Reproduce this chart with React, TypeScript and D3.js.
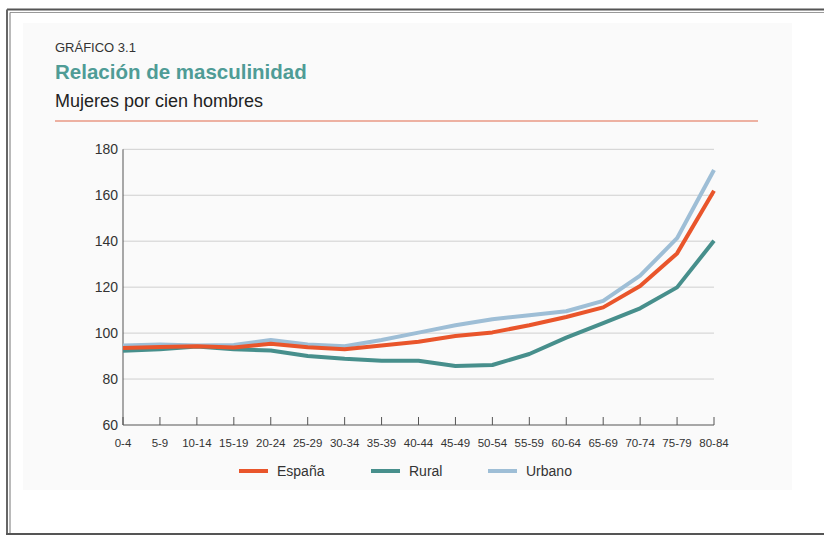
import React from "react";
import * as d3 from "d3";

const categories = ["0-4","5-9","10-14","15-19","20-24","25-29","30-34","35-39","40-44","45-49","50-54","55-59","60-64","65-69","70-74","75-79","80-84"];
const espana = [93.5, 94, 94.3, 93.7, 95.4, 93.8, 93, 94.6, 96.2, 98.7, 100.3, 103.4, 107, 111.2, 120.5, 134.7, 162];
const rural = [92.3, 93, 94.2, 93, 92.4, 90, 88.8, 88, 88, 85.7, 86.1, 90.9, 98, 104.3, 110.8, 119.9, 140.2];
const urbano = [94.6, 95, 94.6, 94.8, 97, 95, 94.3, 97, 100.2, 103.4, 106, 107.8, 109.5, 114, 125, 141.3, 171];
const yTicks = [60, 80, 100, 120, 140, 160, 180];
const seriesNames = ["España", "Rural", "Urbano"];

const COLORS: Record<string, string> = { "España": "#e9552b", "Rural": "#478f8c", "Urbano": "#9ebed6" };
const FONT = "'Liberation Sans', Arial, Helvetica, sans-serif";

export default function App() {
  const W = 824, H = 535;
  const x = d3.scalePoint<string>().domain(categories).range([123, 714]);
  const y = d3.scaleLinear().domain([60, 180]).range([425, 149.3]);
  const line = d3.line<number>().x((_, i) => x(categories[i]) as number).y((v) => y(v));
  const seriesData: Record<string, number[]> = { "España": espana, "Rural": rural, "Urbano": urbano };
  const drawOrder = ["Rural", "Urbano", "España"];
  const legendX = [239, 371, 488];

  return (
    <svg width={W} height={H} style={{ position: "absolute", left: 0, top: 0, background: "#fff" }} fontFamily={FONT}>
      {/* frame */}
      <line x1={7} y1={9.5} x2={W} y2={9.5} stroke="#555" strokeWidth={2} />
      <line x1={10} y1={12.5} x2={W} y2={12.5} stroke="#999" strokeWidth={1} />
      <line x1={7} y1={9.5} x2={7} y2={534} stroke="#666" strokeWidth={2} />
      <line x1={10} y1={12.5} x2={10} y2={534} stroke="#777" strokeWidth={1} />
      <line x1={6} y1={534} x2={W} y2={534} stroke="#555" strokeWidth={2} />
      <rect x={23} y={23} width={769} height={467} fill="#fafafa" />

      {/* header */}
      <text x={55} y={52} fontSize={13} fill="#333">GRÁFICO 3.1</text>
      <text x={55} y={79} fontSize={20.5} fontWeight="bold" fill="#4f9c96">Relación de masculinidad</text>
      <text x={55} y={107} fontSize={18} fill="#222">Mujeres por cien hombres</text>
      <line x1={55} y1={121} x2={758} y2={121} stroke="#e0684a" strokeWidth={1} />

      {/* grid */}
      {yTicks.filter((t) => t > 60).map((t) => (
        <line key={t} x1={123} x2={714} y1={y(t)} y2={y(t)} stroke="#cfcfcf" strokeWidth={1} />
      ))}
      {yTicks.map((t) => (
        <text key={"l" + t} x={118} y={y(t)} dy="0.35em" textAnchor="end" fontSize={14} fill="#333">{t}</text>
      ))}

      {/* axes */}
      <line x1={123} x2={123} y1={149.3} y2={425} stroke="#555" strokeWidth={1} />
      <line x1={123} x2={714} y1={425} y2={425} stroke="#555" strokeWidth={1} />
      {categories.map((c) => (
        <g key={c}>
          <line x1={x(c)} x2={x(c)} y1={417} y2={425} stroke="#555" strokeWidth={1} />
          <text x={x(c)} y={447} textAnchor="middle" fontSize={11.5} fill="#333">{c}</text>
        </g>
      ))}

      {/* series */}
      {drawOrder.map((name) => (
        <path key={name} d={line(seriesData[name]) || ""} fill="none" stroke={COLORS[name]} strokeWidth={4} strokeLinejoin="round" />
      ))}

      {/* legend */}
      {seriesNames.map((name, i) => (
        <g key={name}>
          <line x1={legendX[i]} x2={legendX[i] + 29} y1={471} y2={471} stroke={COLORS[name]} strokeWidth={4} />
          <text x={legendX[i] + 38} y={471} dy="0.35em" fontSize={14} fill="#333">{name}</text>
        </g>
      ))}
    </svg>
  );
}
